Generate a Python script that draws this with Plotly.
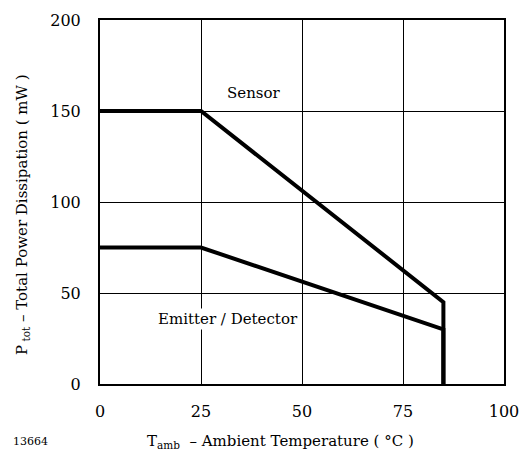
import plotly.graph_objects as go

sensor_t = [0, 25, 85, 85]
sensor_p = [150, 150, 45, 0]
emitter_t = [0, 25, 85, 85]
emitter_p = [75, 75, 30, 0]
x_ticks = [0, 25, 50, 75, 100]
y_ticks = [0, 50, 100, 150, 200]

FONT = "DejaVu Serif"

fig = go.Figure()
fig.add_trace(go.Scatter(x=sensor_t, y=sensor_p, mode="lines",
                         line=dict(color="black", width=4), showlegend=False))
fig.add_trace(go.Scatter(x=emitter_t, y=emitter_p, mode="lines",
                         line=dict(color="black", width=4), showlegend=False))

fig.update_layout(
    template="none",
    width=520, height=457,
    margin=dict(l=100, r=16, t=20, b=73),
    paper_bgcolor="white", plot_bgcolor="white",
    font=dict(family=FONT, size=16, color="black"),
    xaxis=dict(range=[0, 100], tickvals=x_ticks, showgrid=True, gridcolor="black",
               gridwidth=1, zeroline=False, showline=True, linecolor="black",
               linewidth=2, mirror=True, ticks="outside", ticklen=12,
               tickcolor="rgba(0,0,0,0)", tickfont=dict(size=16, family=FONT, color="black")),
    yaxis=dict(range=[0, 200], tickvals=y_ticks, showgrid=True, gridcolor="black",
               gridwidth=1, zeroline=False, showline=True, linecolor="black",
               linewidth=2, mirror=True, ticks="outside", ticklen=14,
               tickcolor="rgba(0,0,0,0)", tickfont=dict(size=16, family=FONT, color="black")),
)

fig.add_annotation(x=38, y=160, text="Sensor", showarrow=False,
                   font=dict(size=15, family=FONT, color="black"))
fig.add_annotation(x=31.8, y=35.7, text="Emitter / Detector", showarrow=False,
                   font=dict(size=15, family=FONT, color="black"), bgcolor="white")
fig.add_annotation(xref="paper", yref="paper", x=(280 - 100) / 404, y=(384 - 442) / 364,
                   text="T<sub>amb</sub>  – Ambient Temperature ( °C )", showarrow=False,
                   font=dict(size=15, family=FONT, color="black"), xanchor="center", yanchor="middle")
fig.add_annotation(xref="paper", yref="paper", x=(30 - 100) / 404, y=(384 - 442) / 364,
                   text="13664", showarrow=False,
                   font=dict(size=11, family=FONT, color="black"), xanchor="center", yanchor="middle")
fig.add_annotation(xref="paper", yref="paper", x=(22 - 100) / 404, y=(384 - 215) / 364,
                   text="P<sub> tot</sub> – Total Power Dissipation ( mW )", showarrow=False,
                   textangle=-90, font=dict(size=15, family=FONT, color="black"),
                   xanchor="center", yanchor="middle")

fig.write_html("out.html")
